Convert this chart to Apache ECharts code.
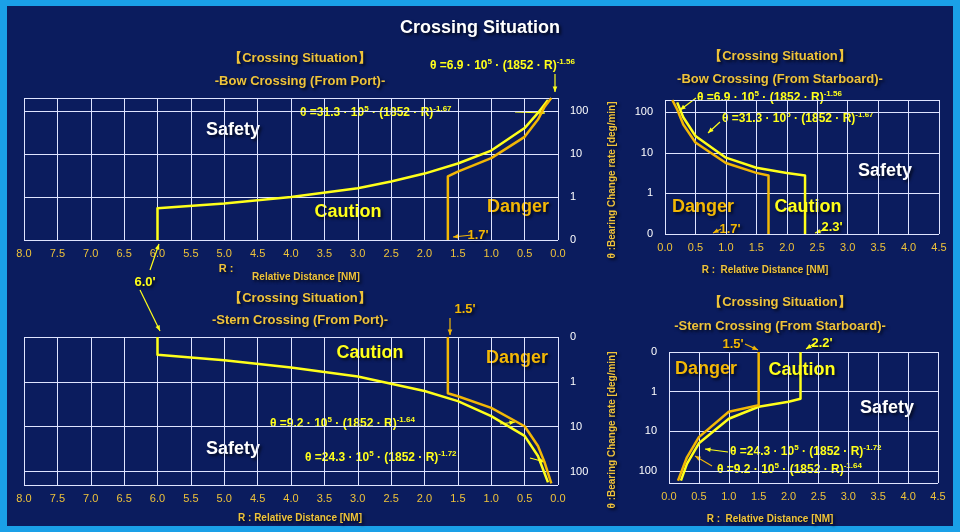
<!DOCTYPE html>
<html><head><meta charset="utf-8">
<script src="https://cdn.jsdelivr.net/npm/echarts@6/dist/echarts.min.js"></script>
<style>html,body{margin:0;padding:0;background:#1aa0e8}#c{width:960px;height:532px}</style>
</head><body><div id="c"></div>
<script>
// Distances R [NM] and bearing change rate θ [deg/min]
const tlCautionR = [6.0, 6.0, 5.0, 4.0, 3.0, 2.5, 2.0, 1.5, 1.0, 0.5, 0.3, 0.15];
const tlCautionT = [0.1, 0.55, 0.71, 1.0, 1.6, 2.3, 3.5, 6, 12, 40, 90, 180];
const tlDangerR = [1.65, 1.65, 1.5, 1.0, 0.5, 0.3, 0.2, 0.1];
const tlDangerT = [0.1, 3.0, 3.9, 8, 25, 63, 125, 200];
const trDangerR = [1.7, 1.7, 1.5, 1.0, 0.5, 0.3, 0.2, 0.12];
const trDangerT = [0.1, 2.75, 3.2, 5.6, 18, 50, 117, 200];
const trCautionR = [2.3, 2.3, 2.0, 1.5, 1.0, 0.5, 0.3, 0.2];
const trCautionT = [0.1, 2.75, 3.2, 4.3, 7.6, 26, 75, 175];
const blCautionR = [6.0, 6.0, 5.0, 4.0, 3.0, 2.0, 1.5, 1.0, 0.5, 0.3, 0.15];
const blCautionT = [0.1, 0.25, 0.33, 0.48, 0.76, 1.6, 2.7, 5.8, 16, 45, 175];
const blDangerR = [1.65, 1.65, 1.5, 1.0, 0.5, 0.3, 0.2, 0.1];
const blDangerT = [0.1, 1.8, 2.1, 3.8, 9.8, 27, 63, 185];
const brDangerR = [1.5, 1.5, 1.0, 0.5, 0.3, 0.15];
const brDangerT = [0.1, 2.2, 3.2, 14, 45, 175];
const brCautionR = [2.2, 2.2, 2.0, 1.5, 1.0, 0.5, 0.3, 0.2];
const brCautionT = [0.1, 1.5, 1.8, 2.4, 4.8, 20, 66, 175];
const yTickLabels = {0.1: '0', 1: '1', 10: '10', 100: '100'};

const YEL = '#ffff1a', ORA = '#f2b705', LAB = '#efc33a', BG = '#0b1c5e';
const zip = (a, b) => a.map((v, i) => [v, b[i]]);

const grids = [
  {left: 24, right: 402, top: 98, height: 142},
  {left: 665, right: 21, top: 100, height: 134},
  {left: 24, right: 402, top: 337, height: 148},
  {left: 669, right: 22, top: 352, height: 131}
];
const xAxes = [0, 1, 2, 3].map(i => ({
  type: 'value', gridIndex: i, min: 0, max: (i % 2 === 0) ? 8 : 4.5, interval: 0.5,
  inverse: i % 2 === 0,
  axisLine: {show: false}, axisTick: {show: false},
  axisLabel: {color: LAB, fontSize: 11, fontFamily: 'Liberation Sans', formatter: v => v.toFixed(1), margin: 8},
  splitLine: {show: true, lineStyle: {color: '#dfe4ff', width: 1}}
}));
const yAxes = [0, 1, 2, 3].map(i => ({
  type: 'log', logBase: 10, gridIndex: i, min: 0.1, max: 200,
  position: (i % 2 === 0) ? 'right' : 'left',
  inverse: i >= 2,
  axisLine: {show: false}, axisTick: {show: false},
  axisLabel: {color: '#ffffff', fontSize: 11, fontFamily: 'Liberation Sans', margin: 12,
    formatter: v => yTickLabels[+v.toPrecision(3)] || ''},
  splitLine: {show: true, lineStyle: {color: '#dfe4ff', width: 1}}
}));
function line(i, r, t, color) {
  return {type: 'line', xAxisIndex: i, yAxisIndex: i, data: zip(r, t), smooth: false, symbol: 'none',
    lineStyle: {color: color, width: 2.5, join: 'round'}, clip: false};
}
const series = [
  line(0, tlCautionR, tlCautionT, YEL), line(0, tlDangerR, tlDangerT, ORA),
  line(1, trCautionR, trCautionT, YEL), line(1, trDangerR, trDangerT, ORA),
  line(2, blCautionR, blCautionT, YEL), line(2, blDangerR, blDangerT, ORA),
  line(3, brCautionR, brCautionT, YEL), line(3, brDangerR, brDangerT, ORA)
];

const rich = {
  a: {fill: YEL, fontSize: 12, fontWeight: 'bold', fontFamily: 'Liberation Sans', lineHeight: 16},
  s: {fill: YEL, fontSize: 8, fontWeight: 'bold', fontFamily: 'Liberation Sans', verticalAlign: 'top', lineHeight: 16, padding: [0, 0, 6, 0]}
};
function formula(x, y, a, b) {
  return {type: 'text', left: x, top: y - 8, style: {
    text: '{a|θ =' + a + ' · 10}{s|5}{a| · (1852 · R)}{s|-' + b + '}', rich: rich, fill: YEL}};
}
function txt(x, y, s, color, size, bold, extra) {
  return Object.assign({type: 'text', x: x, y: y, style: {text: s, fill: color, fontSize: size,
    fontWeight: bold ? 'bold' : 'normal', fontFamily: 'Liberation Sans', align: 'center', verticalAlign: 'middle',
    textShadowColor: 'rgba(0,0,0,0.7)', textShadowBlur: bold ? 3 : 0, textShadowOffsetX: bold ? 2 : 0, textShadowOffsetY: bold ? 2 : 0}}, extra || {});
}
function big(x, y, s, color) { return txt(x, y, s, color, 18, true); }
function arrow(x1, y1, x2, y2, color) {
  const ang = Math.atan2(y2 - y1, x2 - x1), L = 6;
  return [
    {type: 'line', shape: {x1, y1, x2, y2}, style: {stroke: color, lineWidth: 1.2}},
    {type: 'polygon', shape: {points: [[x2, y2],
      [x2 - L * Math.cos(ang - 0.4), y2 - L * Math.sin(ang - 0.4)],
      [x2 - L * Math.cos(ang + 0.4), y2 - L * Math.sin(ang + 0.4)]]}, style: {fill: color}}
  ];
}
const graphic = [
  {type: 'rect', shape: {x: 7, y: 6, width: 946, height: 520}, style: {fill: BG}, z: -10},
  txt(480, 28, 'Crossing Situation', '#ffffff', 18, true, {}),
  // TL
  txt(300, 58, '【Crossing Situation】', LAB, 13, true), txt(300, 81, '-Bow Crossing (From Port)-', LAB, 13, true),
  formula(430, 66, '6.9', '1.56'), formula(300, 113, '31.3', '1.67'),
  big(233, 130, 'Safety', '#ffffff'), big(348, 212, 'Caution', YEL), big(518, 207, 'Danger', ORA),
  txt(478, 235, "1.7'", ORA, 13, true), txt(145, 282, "6.0'", YEL, 13, true),
  txt(226, 269, 'R :', LAB, 11, true), txt(306, 277, 'Relative Distance [NM]', LAB, 10, true),
  // TR
  txt(780, 56, '【Crossing Situation】', LAB, 13, true), txt(780, 79, '-Bow Crossing (From Starboard)-', LAB, 13, true),
  formula(697, 98, '6.9', '1.56'), formula(722, 119, '31.3', '1.67'),
  big(885, 171, 'Safety', '#ffffff'), big(703, 207, 'Danger', ORA), big(808, 207, 'Caution', YEL),
  txt(730, 229, "1.7'", ORA, 13, true), txt(832, 227, "2.3'", YEL, 13, true),
  txt(765, 270, 'R :  Relative Distance [NM]', LAB, 10, true),
  // BL
  txt(300, 298, '【Crossing Situation】', LAB, 13, true), txt(300, 320, '-Stern Crossing (From Port)-', LAB, 13, true),
  txt(465, 309, "1.5'", ORA, 13, true),
  big(370, 353, 'Caution', YEL), big(517, 358, 'Danger', ORA), big(233, 449, 'Safety', '#ffffff'),
  formula(270, 424, '9.2', '1.64'), formula(305, 458, '24.3', '1.72'),
  txt(300, 518, 'R : Relative Distance [NM]', LAB, 10, true),
  // BR
  txt(780, 302, '【Crossing Situation】', LAB, 13, true), txt(780, 326, '-Stern Crossing (From Starboard)-', LAB, 13, true),
  txt(733, 344, "1.5'", ORA, 13, true), txt(822, 343, "2.2'", YEL, 13, true),
  big(706, 369, 'Danger', ORA), big(802, 370, 'Caution', YEL), big(887, 408, 'Safety', '#ffffff'),
  formula(730, 452, '24.3', '1.72'), formula(717, 470, '9.2', '1.64'),
  txt(770, 519, 'R :  Relative Distance [NM]', LAB, 10, true),
  // y names
  txt(612, 180, 'θ :Bearing Change rate [deg/min]', LAB, 10, true, {rotation: Math.PI / 2}),
  txt(612, 430, 'θ :Bearing Change rate [deg/min]', LAB, 10, true, {rotation: Math.PI / 2})
].concat(
  arrow(150, 270, 159, 244, YEL), arrow(140, 290, 160, 331, YEL),
  arrow(472, 235, 453, 237, ORA), arrow(555, 74, 555, 92, YEL),
  arrow(515, 112, 545, 113, YEL), arrow(826, 229, 815, 233, YEL),
  arrow(721, 229, 713, 233, ORA), arrow(696, 98, 680, 110, YEL),
  arrow(720, 122, 708, 133, YEL), arrow(450, 318, 450, 335, ORA),
  arrow(500, 424, 515, 422, YEL), arrow(530, 458, 545, 462, YEL),
  arrow(815, 343, 806, 349, YEL), arrow(745, 344, 758, 350, ORA),
  arrow(728, 452, 705, 449, YEL), arrow(712, 466, 695, 456, ORA)
);
const chart = echarts.init(document.getElementById('c'));
chart.setOption({backgroundColor: '#1aa0e8', animation: false, grid: grids, xAxis: xAxes, yAxis: yAxes, series: series, graphic: graphic});
</script></body></html>
